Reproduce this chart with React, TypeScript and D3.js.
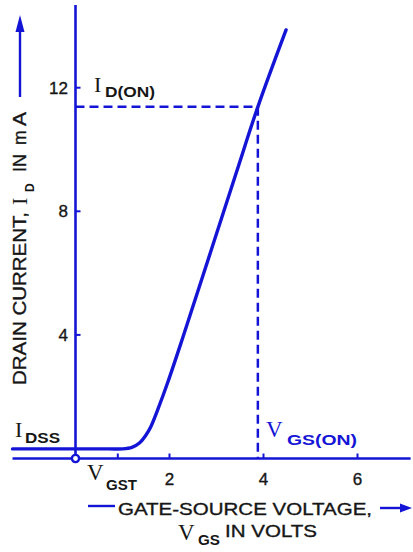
import React from "react";
import * as d3 from "d3";

// ---- data ----
const xTicks = [2, 4, 6];
const yTicks = [4, 8, 12];
const curveVgs = [-1.34, 0.7, 1.0, 1.2, 1.36, 1.5, 1.6, 1.75, 1.96, 2.28, 3.4, 3.88, 4.48];
const curveId = [0.31, 0.31, 0.31, 0.36, 0.5, 0.76, 1.02, 1.58, 2.45, 3.9, 9.15, 11.38, 13.87];
const VGS_ON = 3.88;
const ID_ON = 11.38;
const VGST = 0.9;
const xDomainExtent = [-1.34, 7.13];
const yDomainExtent = [0, 14.68];

const BLUE = "#1414d6";
const INK = "#161616";
const SANS = "'Liberation Sans', Arial, sans-serif";
const SERIF = "'Liberation Serif', 'Times New Roman', serif";

const heavy = (c: string) => ({ stroke: c, strokeWidth: 0.35 });

export default function App() {
  const x = d3.scaleLinear().domain([0, 6]).range([75.5, 357.5]);
  const y = d3.scaleLinear().domain([0, 12]).range([458.5, 87.7]);

  const pts = curveVgs.map((v, i) => [v, curveId[i]] as [number, number]);
  const line = d3
    .line<[number, number]>()
    .x((d) => x(d[0]))
    .y((d) => y(d[1]))
    .curve(d3.curveCatmullRom.alpha(0.5));

  const x0 = x(0);
  const y0 = y(0);

  return (
    <svg
      width={413}
      height={552}
      style={{ position: "absolute", left: 0, top: 0, background: "#fff" }}
    >
      {/* axes */}
      <line x1={x(xDomainExtent[0])} x2={x(xDomainExtent[1])} y1={y0} y2={y0} stroke={BLUE} strokeWidth={2.6} />
      <line x1={x0} x2={x0} y1={y(yDomainExtent[0])} y2={y(yDomainExtent[1])} stroke={BLUE} strokeWidth={2.6} />

      {/* x ticks */}
      {[VGST, ...xTicks].map((t) => (
        <line key={"xt" + t} x1={x(t)} x2={x(t)} y1={y0} y2={y0 - 5} stroke={BLUE} strokeWidth={2} />
      ))}
      {xTicks.map((t) => (
        <text key={"xl" + t} x={x(t)} y={485} textAnchor="middle" fontFamily={SANS} fontSize={17} fill={INK} {...heavy(INK)}>
          {t}
        </text>
      ))}

      {/* y ticks */}
      {yTicks.map((t) => (
        <line key={"yt" + t} x1={x0} x2={x0 + 5} y1={y(t)} y2={y(t)} stroke={BLUE} strokeWidth={2} />
      ))}
      {yTicks.map((t) => (
        <text key={"yl" + t} x={68} y={y(t) + 6} textAnchor="end" fontFamily={SANS} fontSize={17} fill={INK} {...heavy(INK)}>
          {t}
        </text>
      ))}

      {/* dashed guides */}
      <line x1={x0} x2={x(VGS_ON)} y1={y(ID_ON)} y2={y(ID_ON)} stroke={BLUE} strokeWidth={2.5} strokeDasharray="9 5" />
      <line x1={x(VGS_ON)} x2={x(VGS_ON)} y1={y(ID_ON)} y2={y0} stroke={BLUE} strokeWidth={2.5} strokeDasharray="9 5" />

      {/* transfer curve */}
      <path d={line(pts) || ""} fill="none" stroke={BLUE} strokeWidth={3.4} strokeLinecap="round" strokeLinejoin="round" />

      {/* origin circle */}
      <circle cx={x0} cy={y0} r={3.6} fill="#fff" stroke={BLUE} strokeWidth={2.4} />

      {/* I_D(ON) */}
      <text x={94} y={92} fontFamily={SERIF} fontSize={22} fill={INK}>I</text>
      <text x={105} y={97} fontFamily={SANS} fontWeight="bold" fontSize={14} fill={INK} textLength={50} lengthAdjust="spacingAndGlyphs">D(ON)</text>

      {/* I_DSS */}
      <text x={15} y={437} fontFamily={SERIF} fontSize={22} fill={INK}>I</text>
      <text x={25} y={443} fontFamily={SANS} fontWeight="bold" fontSize={14} fill={INK} textLength={35} lengthAdjust="spacingAndGlyphs">DSS</text>

      {/* V_GST */}
      <text x={87} y={480} fontFamily={SERIF} fontSize={23} fill={INK}>V</text>
      <text x={106} y={490} fontFamily={SANS} fontWeight="bold" fontSize={14} fill={INK} textLength={31} lengthAdjust="spacingAndGlyphs">GST</text>

      {/* V_GS(ON) */}
      <text x={266} y={437} fontFamily={SERIF} fontSize={23} fill={BLUE}>V</text>
      <text x={287} y={445} fontFamily={SANS} fontWeight="bold" fontSize={14} fill={BLUE} textLength={70} lengthAdjust="spacingAndGlyphs">GS(ON)</text>

      {/* x axis label */}
      <line x1={88} x2={115} y1={506} y2={506} stroke={BLUE} strokeWidth={2.4} />
      <text x={118} y={515} fontFamily={SANS} fontSize={17} fill={INK} textLength={254} lengthAdjust="spacingAndGlyphs" {...heavy(INK)}>GATE-SOURCE VOLTAGE,</text>
      <line x1={380} x2={402} y1={508} y2={508} stroke={BLUE} strokeWidth={2.4} />
      <path d="M412,508 L400,503.5 L400,512.5 Z" fill={BLUE} />
      <text x={178} y={540} fontFamily={SERIF} fontSize={23} fill={INK}>V</text>
      <text x={198} y={545} fontFamily={SANS} fontWeight="bold" fontSize={14} fill={INK} textLength={22} lengthAdjust="spacingAndGlyphs">GS</text>
      <text x={225} y={537} fontFamily={SANS} fontSize={17} fill={INK} textLength={92} lengthAdjust="spacingAndGlyphs" {...heavy(INK)}>IN VOLTS</text>

      {/* y axis label (rotated) */}
      <g transform="translate(26,385) rotate(-90)">
        <text x={0} y={0} fontFamily={SANS} fontSize={17.5} fill={INK} textLength={173} lengthAdjust="spacingAndGlyphs" {...heavy(INK)}>DRAIN CURRENT,</text>
        <text x={180} y={1} fontFamily={SERIF} fontSize={22} fill={INK}>I</text>
        <text x={193} y={8} fontFamily={SANS} fontWeight="bold" fontSize={12} fill={INK}>D</text>
        <text x={213} y={0} fontFamily={SANS} fontSize={17.5} fill={INK} textLength={18} lengthAdjust="spacingAndGlyphs" {...heavy(INK)}>IN</text>
        <text x={240} y={0} fontFamily={SANS} fontSize={17.5} fill={INK} {...heavy(INK)}>m</text>
        <text x={259} y={0} fontFamily={SANS} fontSize={17.5} fill={INK} textLength={14} lengthAdjust="spacingAndGlyphs" {...heavy(INK)}>A</text>
      </g>
      <line x1={20} x2={20} y1={97} y2={30} stroke={BLUE} strokeWidth={2.4} />
      <path d="M20,15 L15.5,32 L24.5,32 Z" fill={BLUE} />
    </svg>
  );
}
